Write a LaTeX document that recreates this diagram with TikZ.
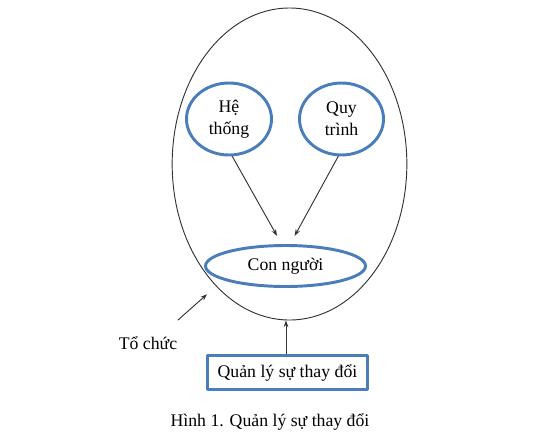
\documentclass[tikz,border=0pt]{standalone}
\usepackage{fontspec}
\setmainfont{Liberation Serif}
\usepackage{tikz}
\usetikzlibrary{arrows.meta, shapes.geometric}
\definecolor{ringblue}{RGB}{74,126,187}

\begin{document}
\begin{tikzpicture}[
  x=0.75pt,y=-0.75pt,
  line cap=round,
  line join=round,
  font=\fontsize{13.3}{16.5}\selectfont,
  shell/.style={draw=black!80,line width=0.7pt,ellipse,inner sep=0pt},
  bubble/.style={draw=ringblue,line width=2.2pt,ellipse,inner sep=0pt,align=center},
  tagbox/.style={draw=ringblue,line width=2.2pt,inner sep=0pt},
  link/.style={draw=black!80,line width=0.7pt,-{Stealth[length=5pt,width=3.5pt]}}
]
  \useasboundingbox (0,0) rectangle (541,436);

  % Organisation shell
  \node[shell,minimum width=176pt,minimum height=234pt] (org) at (289.5,164) {};

  % Inner bubbles
  \node[bubble,minimum width=63.75pt,minimum height=54pt] (he) at (229,119) {Hệ\\thống};
  \node[bubble,minimum width=63pt,minimum height=54pt] (quy) at (341.5,119) {Quy\\trình};
  \node[bubble,minimum width=120pt,minimum height=30.75pt] (nguoi) at (285.5,266) {Con người};

  % Change box and labels
  \node[tagbox,minimum width=120pt,minimum height=25.5pt] (change) at (287.5,372.5) {Quản lý sự thay đổi};
  \node (tochuc) at (148,343) {Tổ chức};
  \node (caption) at (270,422) {Hình 1. Quản lý sự thay đổi};
  \coordinate (tail) at (178,320);
  \coordinate (up) at (286,354);

  % Arrows
  \draw[link,shorten >=7pt] (he.-85) -- (nguoi.100);
  \draw[link,shorten >=7pt] (quy.-95) -- (nguoi.78);
  \draw[link,shorten >=9pt] (tail) -- (org.239);
  \draw[link] (up) -- (up |- org.south);
\end{tikzpicture}
\end{document}
